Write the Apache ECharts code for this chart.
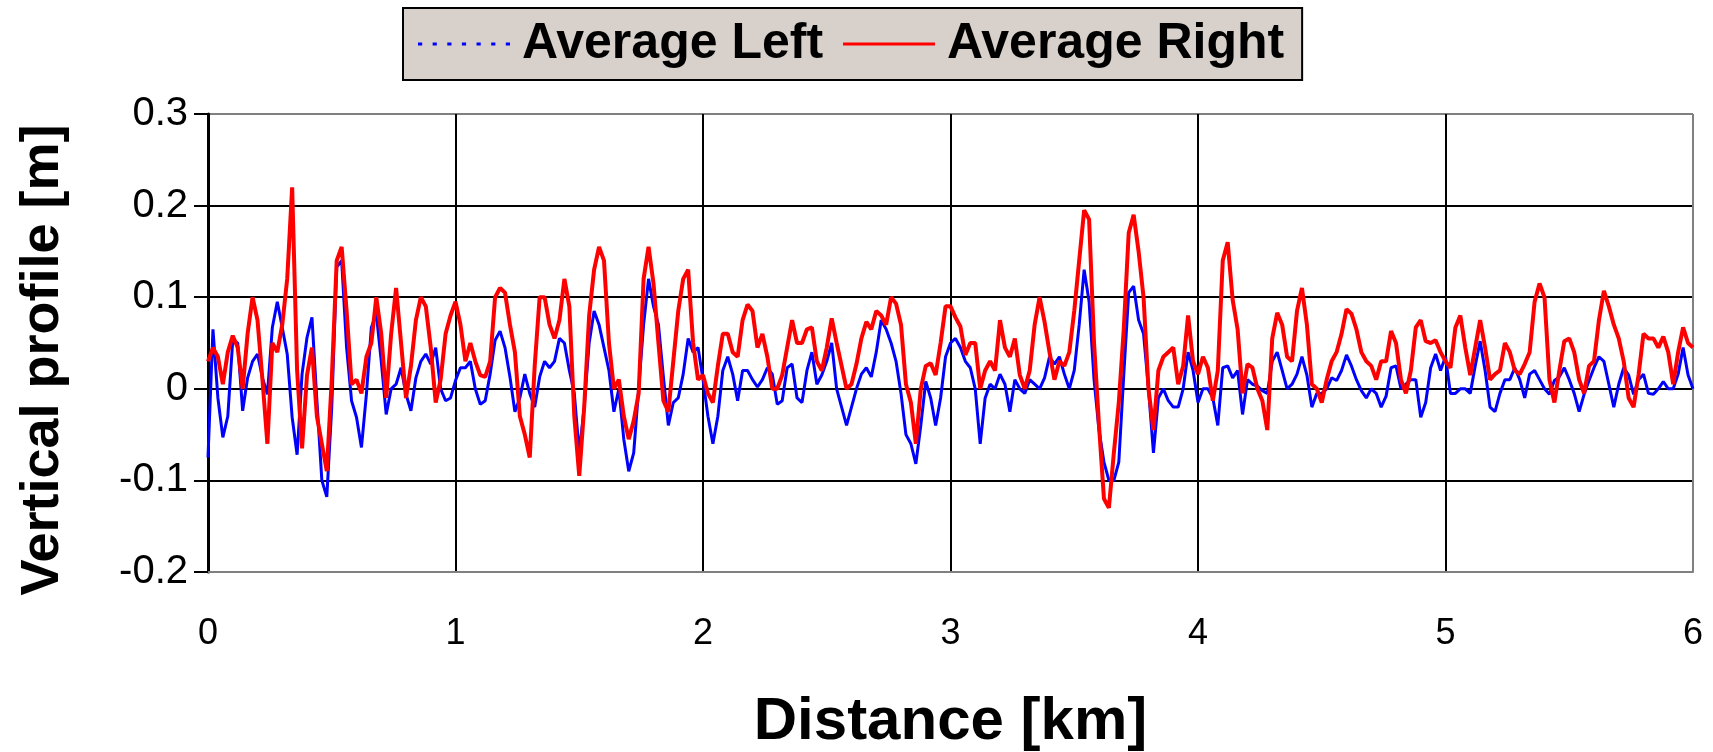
<!DOCTYPE html>
<html>
<head>
<meta charset="utf-8">
<script src="https://cdn.jsdelivr.net/npm/echarts@6/dist/echarts.min.js"></script>
<style>
  html, body { margin: 0; padding: 0; background: #ffffff; }
  #chart { width: 1713px; height: 752px; }
</style>
</head>
<body>
<div id="chart"></div>
<script>
// Sampling step along the track (km)
const stepKm = 0.02;

// Average Left profile [m], one value every 0.02 km from 0 to 6 km
const averageLeft = [
  -0.075, 0.065, -0.01, -0.053, -0.03, 0.053, 0.05, -0.024, 0.012, 0.03,
  0.038, 0.012, -0.006, 0.067, 0.095, 0.067, 0.038, -0.031, -0.072, 0.016,
  0.056, 0.078, -0.013, -0.10, -0.118, -0.02, 0.133, 0.14, 0.045, -0.013,
  -0.031, -0.064, -0.006, 0.067, 0.082, 0.03, -0.028, 0.0, 0.005, 0.023,
  -0.006, -0.024, 0.012, 0.03, 0.038, 0.027, 0.045, 0.0, -0.013, -0.01,
  0.009, 0.023, 0.023, 0.03, 0.0, -0.017, -0.013, 0.016, 0.053, 0.063,
  0.045, 0.013, -0.025, -0.01, 0.016, -0.005, -0.02, 0.013, 0.03, 0.023,
  0.03, 0.055, 0.05, 0.02, -0.005, -0.07, -0.02, 0.05, 0.085, 0.07,
  0.045, 0.02, -0.025, 0.0, -0.055, -0.09, -0.07, 0.0, 0.07, 0.12,
  0.09, 0.07, 0.013, -0.04, -0.015, -0.01, 0.016, 0.055, 0.04, 0.045,
  0.01, -0.03, -0.06, -0.03, 0.02, 0.035, 0.016, -0.013, 0.02, 0.02,
  0.01, 0.002, 0.01, 0.023, 0.016, -0.017, -0.013, 0.023, 0.027, -0.01,
  -0.015, 0.02, 0.04, 0.005, 0.015, 0.03, 0.05, 0.0, -0.02, -0.04,
  -0.02, 0.0, 0.016, 0.023, 0.013, 0.04, 0.075, 0.065, 0.05, 0.03,
  -0.005, -0.05, -0.06, -0.082, -0.04, 0.008, -0.01, -0.04, -0.01, 0.035,
  0.05, 0.055, 0.045, 0.03, 0.023, 0.0, -0.06, -0.01, 0.005, 0.0,
  0.016, 0.005, -0.025, 0.01, 0.0, -0.005, 0.01, 0.005, 0.0, 0.012,
  0.035, 0.027, 0.035, 0.016, 0.0, 0.02, 0.07, 0.13, 0.095, 0.01,
  -0.045, -0.08, -0.1, -0.1, -0.08, 0.015, 0.105, 0.112, 0.075, 0.06,
  0.0, -0.07, -0.01, 0.0, -0.013, -0.02, -0.02, 0.0, 0.04, 0.02,
  -0.015, 0.0, 0.0, -0.01, -0.04, 0.023, 0.025, 0.012, 0.02, -0.028,
  0.01, 0.005, 0.003, -0.002, -0.005, 0.03, 0.04, 0.02, 0.0, 0.005,
  0.016, 0.035, 0.015, -0.02, -0.005, -0.005, 0.0, 0.012, 0.009, 0.02,
  0.037, 0.025, 0.01, -0.002, -0.01, 0.0, -0.005, -0.02, -0.008, 0.023,
  0.025, 0.0, 0.005, 0.01, 0.01, -0.031, -0.015, 0.023, 0.038, 0.02,
  0.035, -0.005, -0.005, 0.0, 0.0, -0.005, 0.025, 0.052, 0.02, -0.02,
  -0.025, -0.005, 0.01, 0.01, 0.023, 0.01, -0.01, 0.016, 0.02, 0.01,
  0.0, -0.006, 0.009, 0.013, 0.023, 0.01, -0.005, -0.025, -0.006, 0.009,
  0.023, 0.035, 0.03, 0.005, -0.02, 0.005, 0.023, 0.015, -0.006, 0.01,
  0.016, -0.005, -0.006, 0.0, 0.008, 0.0, 0.0, 0.016, 0.045, 0.015,
  0.0
];

// Average Right profile [m], one value every 0.02 km from 0 to 6 km
const averageRight = [
  0.03, 0.045, 0.035, 0.005, 0.04, 0.058, 0.045, 0.0, 0.06, 0.1,
  0.075, 0.01, -0.06, 0.05, 0.04, 0.07, 0.12, 0.22, 0.02, -0.065,
  0.015, 0.045, -0.03, -0.06, -0.09, 0.01, 0.14, 0.155, 0.085, 0.005,
  0.01, -0.005, 0.035, 0.05, 0.1, 0.06, -0.01, 0.06, 0.11, 0.05,
  -0.01, 0.025, 0.075, 0.1, 0.09, 0.045, -0.015, 0.01, 0.06, 0.08,
  0.095, 0.07, 0.03, 0.05, 0.03, 0.015, 0.013, 0.03, 0.1, 0.11,
  0.105, 0.07, 0.04, -0.03, -0.05, -0.075, 0.025, 0.1, 0.1, 0.07,
  0.055, 0.075, 0.12, 0.09, -0.03, -0.095, -0.02, 0.08, 0.13, 0.155,
  0.14, 0.05, 0.0, 0.01, -0.03, -0.055, -0.035, -0.005, 0.12, 0.155,
  0.115, 0.05, -0.013, -0.025, 0.03, 0.085, 0.12, 0.13, 0.05, 0.01,
  0.015, -0.005, -0.015, 0.025, 0.06, 0.06, 0.04, 0.035, 0.075, 0.092,
  0.085, 0.045, 0.06, 0.035, 0.0, 0.0, 0.015, 0.045, 0.075, 0.05,
  0.05, 0.065, 0.067, 0.03, 0.02, 0.045, 0.077, 0.05, 0.025, 0.0,
  0.005, 0.027, 0.055, 0.073, 0.065, 0.085, 0.08, 0.07, 0.1, 0.093,
  0.07, 0.005, -0.015, -0.06, 0.0, 0.025, 0.028, 0.015, 0.05, 0.09,
  0.09, 0.078, 0.068, 0.037, 0.05, 0.05, 0.0, 0.02, 0.03, 0.02,
  0.075, 0.045, 0.035, 0.055, 0.015, 0.0, 0.02, 0.07, 0.1, 0.073,
  0.04, 0.01, 0.03, 0.025, 0.04, 0.085, 0.14, 0.195, 0.185, 0.05,
  -0.04, -0.12, -0.13, -0.07, -0.015, 0.065, 0.17, 0.19, 0.15, 0.1,
  0.0, -0.045, 0.02, 0.035, 0.04, 0.045, 0.005, 0.025, 0.08, 0.03,
  0.016, 0.035, 0.023, -0.013, 0.02, 0.14, 0.16, 0.097, 0.065, -0.005,
  0.027, 0.023, 0.0, -0.013, -0.045, 0.055, 0.083, 0.07, 0.035, 0.03,
  0.085, 0.11, 0.07, 0.005, 0.0, -0.015, 0.01, 0.03, 0.04, 0.06,
  0.087, 0.082, 0.065, 0.04, 0.03, 0.025, 0.01, 0.03, 0.03, 0.063,
  0.05, 0.01, -0.005, 0.02, 0.067, 0.075, 0.052, 0.05, 0.053, 0.04,
  0.03, 0.023, 0.067, 0.08, 0.045, 0.015, 0.045, 0.075, 0.045, 0.01,
  0.016, 0.02, 0.05, 0.04, 0.02, 0.016, 0.027, 0.04, 0.095, 0.115,
  0.1, 0.01, -0.015, 0.02, 0.052, 0.055, 0.04, 0.01, -0.005, 0.025,
  0.03, 0.075, 0.107, 0.09, 0.07, 0.055, 0.03, -0.01, -0.02, 0.015,
  0.06, 0.055, 0.055, 0.045, 0.057, 0.04, 0.005, 0.04, 0.067, 0.05,
  0.045
];

const seriesNames = ['Average Left', 'Average Right'];
const xTitle = 'Distance [km]';
const yTitle = 'Vertical profile [m]';

const FONT = '"Liberation Sans", Arial, Helvetica, sans-serif';

// Legend glyphs: a dotted stroke and a solid stroke
const dottedIcon = 'path://M0,0h4v3h-4z M14,0h4v3h-4z M28,0h4v3h-4z M42,0h4v3h-4z M56,0h4v3h-4z M70,0h4v3h-4z M84,0h4v3h-4z';
const solidIcon = 'path://M0,0h88v3h-88z';

function toPairs(values) {
  return values.map((v, i) => [Number((i * stepKm).toFixed(2)), v]);
}

const chart = echarts.init(document.getElementById('chart'), null, { renderer: 'canvas' });

const option = {
  backgroundColor: '#ffffff',
  animation: false,
  textStyle: { fontFamily: FONT },
  legend: {
    show: true,
    left: 403,
    top: 8,
    width: 1000,
    orient: 'horizontal',
    padding: [9, 18, 9, 15],
    itemGap: 20,
    itemWidth: 92,
    itemHeight: 3,
    symbolKeepAspect: false,
    backgroundColor: '#d8d0ca',
    borderColor: '#000000',
    borderWidth: 2,
    data: [
      { name: seriesNames[0], icon: dottedIcon, itemStyle: { color: '#0000ff', borderWidth: 0 } },
      { name: seriesNames[1], icon: solidIcon, itemStyle: { color: '#ff0000', borderWidth: 0 } }
    ],
    textStyle: {
      color: '#000000',
      fontFamily: FONT,
      fontWeight: 'bold',
      fontSize: 50,
      lineHeight: 54,
      padding: [0, 0, 0, 7]
    }
  },
  grid: {
    left: 208,
    right: 20,
    top: 114,
    bottom: 180,
    containLabel: false,
    outerBoundsMode: 'none',
    show: false
  },
  xAxis: {
    type: 'value',
    min: 0,
    max: 6,
    interval: 1,
    name: xTitle,
    nameLocation: 'middle',
    nameGap: 120,
    nameTextStyle: { fontFamily: FONT, fontWeight: 'bold', fontSize: 60, color: '#000' },
    axisLine: { show: true, onZero: false, lineStyle: { color: '#808080', width: 2 } },
    axisTick: { show: false },
    axisLabel: { fontFamily: FONT, fontSize: 36, color: '#000', margin: 44 },
    splitLine: {
      show: true,
      lineStyle: { color: ['#000000', '#000000', '#000000', '#000000', '#000000', '#000000', '#808080'], width: 2 }
    }
  },
  yAxis: {
    type: 'value',
    min: -0.2,
    max: 0.3,
    interval: 0.1,
    name: yTitle,
    nameLocation: 'middle',
    nameGap: 138,
    nameRotate: 90,
    nameTextStyle: { fontFamily: FONT, fontWeight: 'bold', fontSize: 54, color: '#000', padding: [0, 34, 0, 0] },
    axisLine: { show: true, onZero: false, lineStyle: { color: '#000000', width: 3 } },
    axisTick: { show: true, inside: false, length: 14, lineStyle: { color: '#000000', width: 2 } },
    axisLabel: {
      fontFamily: FONT, fontSize: 40, color: '#000', margin: 20,
      formatter: v => String(Math.round(v * 10) / 10)
    },
    splitLine: {
      show: true,
      lineStyle: { color: ['#808080', '#000000', '#000000', '#000000', '#000000', '#808080'], width: 2 }
    }
  },
  series: [
    {
      name: seriesNames[0],
      type: 'line',
      data: toPairs(averageLeft),
      symbol: 'none',
      showSymbol: false,
      smooth: false,
      sampling: null,
      lineStyle: { color: '#0000ff', width: 3 },
      itemStyle: { color: '#0000ff' },
      z: 3
    },
    {
      name: seriesNames[1],
      type: 'line',
      data: toPairs(averageRight),
      symbol: 'none',
      showSymbol: false,
      smooth: false,
      sampling: null,
      lineStyle: { color: '#ff0000', width: 4 },
      itemStyle: { color: '#ff0000' },
      z: 4
    }
  ]
};

chart.setOption(option);
</script>
</body>
</html>
